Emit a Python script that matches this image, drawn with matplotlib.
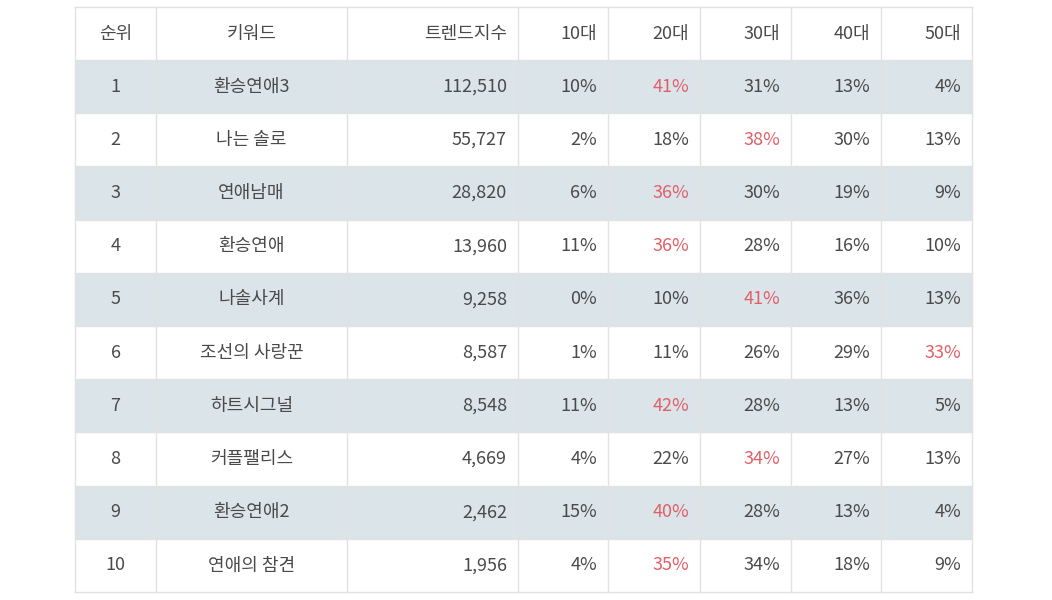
import matplotlib.pyplot as plt
from matplotlib.patches import Rectangle

plt.rcParams['font.family'] = ['Noto Sans CJK KR', 'DejaVu Sans']

headers = ['순위', '키워드', '트렌드지수', '10대', '20대', '30대', '40대', '50대']
ranks = list(range(1, 11))
keywords = ['환승연애3', '나는 솔로', '연애남매', '환승연애', '나솔사계',
            '조선의 사랑꾼', '하트시그널', '커플팰리스', '환승연애2', '연애의 참견']
trend = [112510, 55727, 28820, 13960, 9258, 8587, 8548, 4669, 2462, 1956]
age10 = [10, 2, 6, 11, 0, 1, 11, 4, 15, 4]
age20 = [41, 18, 36, 36, 10, 11, 42, 22, 40, 35]
age30 = [31, 38, 30, 28, 41, 26, 28, 34, 28, 34]
age40 = [13, 30, 19, 16, 36, 29, 13, 27, 13, 18]
age50 = [4, 13, 9, 10, 13, 33, 5, 13, 4, 9]

# column edges in pixels
xs = [75, 156, 347, 518, 608, 700, 791, 881, 972]
top, head_h, row_h = 7, 53, 53.2
aligns = ['center', 'center', 'right', 'right', 'right', 'right', 'right', 'right']
txt = '#4a4a4a'
red = '#e0606a'
line = '#e2e2e2'

fig = plt.figure(figsize=(10.52, 6), dpi=100)
ax = fig.add_axes([0, 0, 1, 1])
ax.set_xlim(0, 1052)
ax.set_ylim(600, 0)
ax.axis('off')

def put(col, yc, s, color=txt):
    if aligns[col] == 'center':
        x = (xs[col] + xs[col + 1]) / 2
    else:
        x = xs[col + 1] - 11
    ax.text(x, yc, s, ha=aligns[col], va='center', fontsize=13, color=color)

for c, h in enumerate(headers):
    put(c, top + head_h / 2, h)

ages = [age10, age20, age30, age40, age50]
for i in range(len(ranks)):
    y0 = top + head_h + i * row_h
    if i % 2 == 0:
        ax.add_patch(Rectangle((xs[0], y0), xs[-1] - xs[0], row_h, color='#dae4e9', lw=0))
    yc = y0 + row_h / 2
    put(0, yc, str(ranks[i]))
    put(1, yc, keywords[i])
    put(2, yc, f'{trend[i]:,}')
    vals = [a[i] for a in ages]
    mx = max(vals)
    for j, v in enumerate(vals):
        put(3 + j, yc, f'{v}%', red if v == mx else txt)

bottom = top + head_h + len(ranks) * row_h
for x in xs:
    ax.plot([x, x], [top, bottom], color=line, lw=1)
ax.plot([xs[0], xs[-1]], [top, top], color=line, lw=1)
for i in range(len(ranks) + 1):
    y = top + head_h + i * row_h
    ax.plot([xs[0], xs[-1]], [y, y], color=line, lw=1)

fig.savefig('out.png', dpi=100)
